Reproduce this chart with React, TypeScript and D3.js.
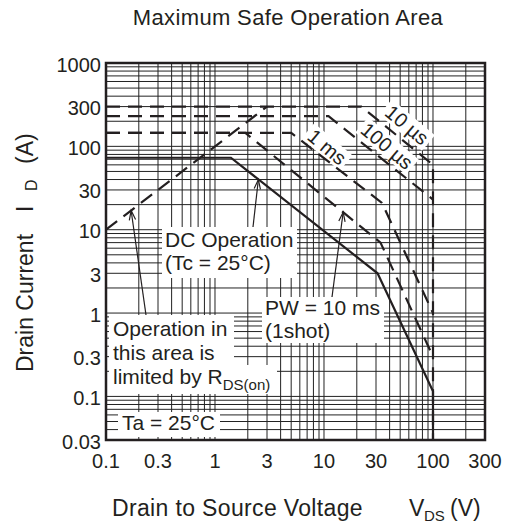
import * as d3 from 'd3'

// axis ticks
const xTicks = [0.1, 0.3, 1, 3, 10, 30, 100, 300]
const yTicks = [1000, 300, 100, 30, 10, 3, 1, 0.3, 0.1, 0.03]

// curves as [V_DS, I_D]
const dcLine = [[0.1, 73], [1.4, 73], [31, 3], [100, 0.115], [100, 0.03]]
const rdsLine = [[0.1, 10], [3, 300]]
const pw10us = [[0.1, 300], [22, 300], [100, 60], [100, 0.03]]
const pw100us = [[0.1, 230], [11, 230], [100, 23]]
const pw1ms = [[0.1, 145], [5, 145], [34, 21], [100, 1]]
const pw10ms = [[0.1, 145], [1.9, 145], [33, 7], [100, 0.3]]

const INK = '#231f20'
const FONT = '"Liberation Sans", Arial, Helvetica, sans-serif'

const x = d3.scaleLog().domain([0.1, 300]).range([106, 485])
const y = d3.scaleLog().domain([0.03, 1000]).range([440, 63])
const line = d3.line<number[]>().x((d) => x(d[0])).y((d) => y(d[1]))

function Arrow({ from, to }: { from: number[]; to: number[] }) {
  const [x1, y1] = from
  const [x2, y2] = to
  const a = Math.atan2(y2 - y1, x2 - x1)
  const L = 10
  const s = 0.32
  const p1 = [x2 - L * Math.cos(a - s), y2 - L * Math.sin(a - s)]
  const p2 = [x2 - L * Math.cos(a + s), y2 - L * Math.sin(a + s)]
  return (
    <g stroke={INK} strokeWidth={1.2} fill="none">
      <line x1={x1} y1={y1} x2={x2} y2={y2} />
      <path d={`M${p1[0]},${p1[1]}L${x2},${y2}L${p2[0]},${p2[1]}`} />
    </g>
  )
}

// white band behind a rotated pulse-width label
function RotBox({ cx, cy, w }: { cx: number; cy: number; w: number }) {
  return (
    <g transform={`translate(${cx},${cy}) rotate(40)`}>
      <rect x={-w / 2} y={-10} width={w} height={20} fill="#fff" />
    </g>
  )
}

function RotText({ cx, cy, text }: { cx: number; cy: number; text: string }) {
  return (
    <text transform={`translate(${cx},${cy}) rotate(40)`} y={7} textAnchor="middle" fontSize={20}>
      {text}
    </text>
  )
}

export default function App() {
  const xGrid = x.ticks()
  const yGrid = y.ticks()
  const dashed = { fill: 'none', stroke: INK, strokeWidth: 2.2, strokeDasharray: '14 8' }

  return (
    <svg
      width={513}
      height={525}
      style={{ position: 'absolute', left: 0, top: 0, background: '#fff' }}
      fontFamily={FONT}
      fill={INK}
    >
      <text x={288} y={25} textAnchor="middle" fontSize={22} letterSpacing={0.35}>
        Maximum Safe Operation Area
      </text>

      {/* log grid */}
      <g stroke="#222" strokeWidth={1}>
        {xGrid.map((v) => (
          <line key={'gx' + v} x1={x(v)} x2={x(v)} y1={63} y2={440} />
        ))}
        {yGrid.map((v) => (
          <line key={'gy' + v} x1={106} x2={485} y1={y(v)} y2={y(v)} />
        ))}
      </g>

      {/* label backgrounds */}
      <g fill="#fff">
        <rect x={162} y={227} width={135} height={51} />
        <rect x={109} y={315} width={125} height={52} />
        <rect x={109} y={365} width={168} height={29} />
        <rect x={262} y={297} width={122} height={46} />
        <rect x={118} y={412} width={102} height={25} />
      </g>
      <RotBox cx={407} cy={125} w={56} />
      <RotBox cx={387} cy={146} w={66} />
      <RotBox cx={327} cy={147} w={50} />

      {/* curves */}
      <path d={line(rdsLine) ?? ''} {...dashed} />
      <path d={line(pw10us) ?? ''} {...dashed} />
      <path d={line(pw100us) ?? ''} {...dashed} />
      <path d={line(pw1ms) ?? ''} {...dashed} />
      <path d={line(pw10ms) ?? ''} {...dashed} />
      <path d={line(dcLine) ?? ''} fill="none" stroke={INK} strokeWidth={2.2} />

      {/* frame */}
      <rect x={106} y={63} width={379} height={377} fill="none" stroke={INK} strokeWidth={2.5} />

      {/* tick labels */}
      <g fontSize={20}>
        {yTicks.map((v) => (
          <text key={'yt' + v} x={101} y={y(v) + 8.5} textAnchor="end">
            {v}
          </text>
        ))}
        {xTicks.map((v) => (
          <text key={'xt' + v} x={x(v)} y={468} textAnchor="middle">
            {v}
          </text>
        ))}
      </g>

      {/* axis titles */}
      <g fontSize={23}>
        <text x={112} y={516} letterSpacing={0.35}>
          Drain to Source Voltage
        </text>
        <text x={409} y={516}>V</text>
        <text x={424} y={521} fontSize={15}>DS</text>
        <text x={450} y={516}>(V)</text>
        <text transform="translate(33,372) rotate(-90)">Drain Current</text>
        <text transform="translate(33,212) rotate(-90)">I</text>
        <text transform="translate(37,191) rotate(-90)" fontSize={16}>D</text>
        <text transform="translate(33,164) rotate(-90)">(A)</text>
      </g>

      {/* annotations */}
      <g fontSize={21}>
        <text x={165} y={247}>DC Operation</text>
        <text x={165} y={270}>(Tc = 25°C)</text>
        <text x={113} y={336}>Operation in</text>
        <text x={113} y={360}>this area is</text>
        <text x={113} y={384}>
          limited by R<tspan fontSize={15} dy={6}>DS(on)</tspan>
        </text>
        <text x={265} y={315}>PW = 10 ms</text>
        <text x={265} y={338}>(1shot)</text>
        <text x={122} y={430}>Ta = 25°C</text>
      </g>
      <RotText cx={407} cy={125} text="10 µs" />
      <RotText cx={387} cy={146} text="100 µs" />
      <RotText cx={327} cy={147} text="1 ms" />

      <Arrow from={[253, 227]} to={[x(2.5), y(40)]} />
      <Arrow from={[146, 315]} to={[x(0.17), y(17)]} />
      <Arrow from={[332, 297]} to={[x(15), y(16.3)]} />
    </svg>
  )
}
